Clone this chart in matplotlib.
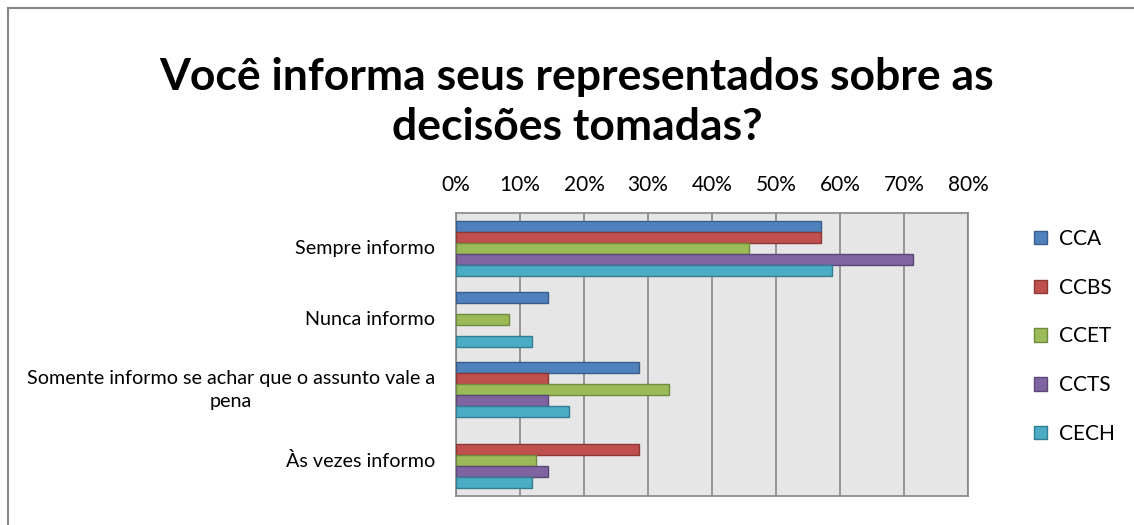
import matplotlib

matplotlib.use("Agg")
import matplotlib.pyplot as plt
import numpy as np
from matplotlib.lines import Line2D
from matplotlib.transforms import blended_transform_factory, offset_copy

plt.rcParams["font.family"] = ["Lato", "DejaVu Sans"]

categories = [
    "Sempre informo",
    "Nunca informo",
    "Somente informo se achar que o assunto vale a\npena",
    "Às vezes informo",
]
series_names = ["CCA", "CCBS", "CCET", "CCTS", "CECH"]

# percentual de respostas por centro, na ordem das categorias
cca = [57.1, 14.3, 28.6, 0.0]
ccbs = [57.1, 0.0, 14.3, 28.6]
ccet = [45.8, 8.3, 33.3, 12.5]
ccts = [71.4, 0.0, 14.3, 14.3]
cech = [58.8, 11.8, 17.6, 11.8]

x_ticks = [0, 10, 20, 30, 40, 50, 60, 70, 80]
x_tick_labels = [f"{t}%" for t in x_ticks]

fill_colors = ["#4f81bd", "#c0504d", "#9bbb59", "#8064a2", "#4bacc6"]
edge_colors = ["#385d8a", "#8c3836", "#71893f", "#5c4776", "#357d91"]

W, H = 1134, 525
fig = plt.figure(figsize=(W / 100, H / 100), dpi=100)

# moldura do gráfico (só topo e esquerda aparecem)
fig.add_artist(Line2D([7.5 / W, 7.5 / W], [0, 1 - 7.5 / H], transform=fig.transFigure,
                      color="#868686", lw=1.5))
fig.add_artist(Line2D([7.5 / W, 1], [1 - 7.5 / H, 1 - 7.5 / H], transform=fig.transFigure,
                      color="#868686", lw=1.5))

left, right, top, bottom = 456, 968, 213, 496
ax = fig.add_axes([left / W, (H - bottom) / H, (right - left) / W, (bottom - top) / H])
ax.set_facecolor("#e6e6e6")

values = [cca, ccbs, ccet, ccts, cech]
bar_h = 0.155
y = np.arange(len(categories))
for i, (name, vals) in enumerate(zip(series_names, values)):
    vals = np.array(vals)
    offset = (i - 2) * bar_h
    # barras com 0% não aparecem
    ax.barh(y + offset, np.where(vals > 0, vals, np.nan), height=bar_h, color=fill_colors[i],
            edgecolor=edge_colors[i], linewidth=1.0, label=name, zorder=3)

ax.set_xlim(0, 80)
ax.set_ylim(len(categories) - 0.5, -0.5)
ax.set_xticks(x_ticks)
ax.set_xticklabels(x_tick_labels, fontsize=15)
ax.xaxis.tick_top()
ax.tick_params(axis="x", length=0, pad=13)

# rótulos das categorias como texto, para centralizar as linhas quebradas
ax.set_yticks([])
label_tr = offset_copy(blended_transform_factory(ax.transAxes, ax.transData), fig=fig,
                       x=-21, y=0, units="dots")
for yi, cat in zip(y, categories):
    ax.text(0, yi, cat, transform=label_tr, ha="right", va="center", multialignment="center",
            fontsize=14.2, linespacing=1.45)

ax.grid(axis="x", color="#868686", linewidth=1.2, zorder=1)
for spine in ax.spines.values():
    spine.set_color("#868686")
    spine.set_linewidth(1.2)

fig.text(577 / W, 1 - 102 / H, "Você informa seus representados sobre as\ndecisões tomadas?",
         ha="center", va="center", fontsize=32, fontweight="bold", linespacing=1.3)

ax.legend(loc="upper left", bbox_to_anchor=(1034 / W, 1 - 229 / H), bbox_transform=fig.transFigure,
          frameon=False, fontsize=15, labelspacing=1.38, handlelength=0.62, handleheight=0.62,
          handletextpad=0.6, borderpad=0, borderaxespad=0)

fig.savefig("out.png", dpi=100)
